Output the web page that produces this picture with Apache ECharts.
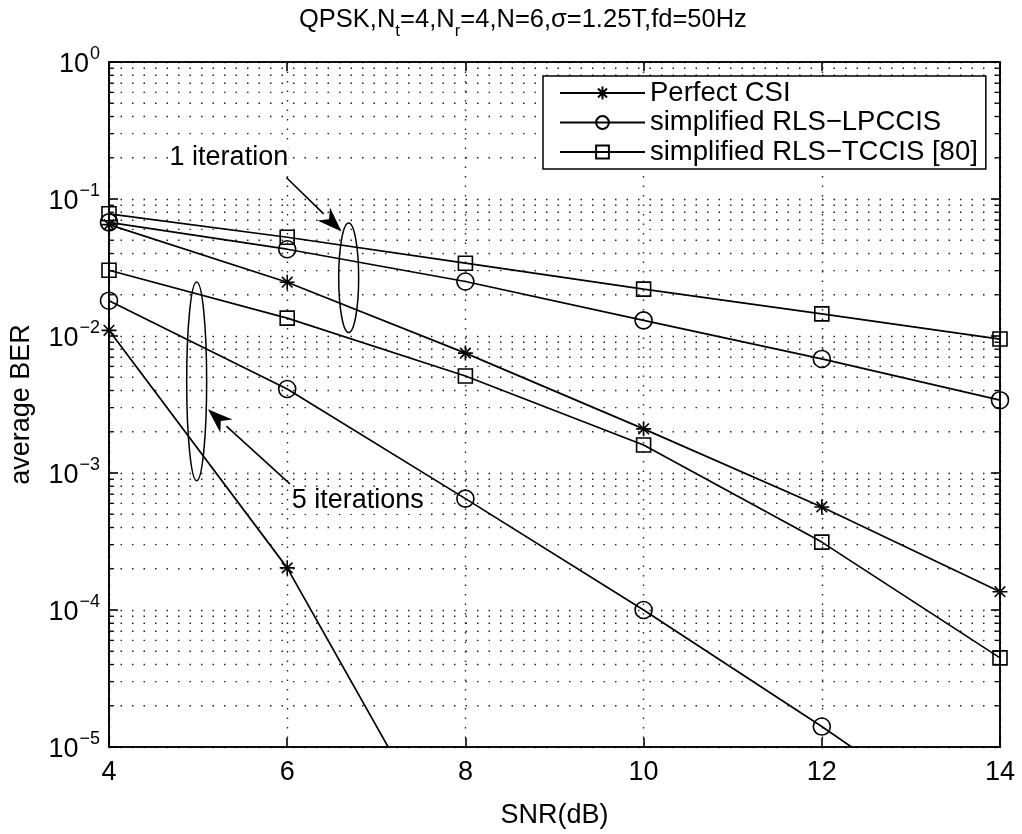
<!DOCTYPE html>
<html>
<head>
<meta charset="utf-8">
<script src="https://cdn.jsdelivr.net/npm/echarts@6/dist/echarts.min.js"></script>
<style>
  html, body { margin: 0; padding: 0; background: #fff; }
  #chart { width: 1022px; height: 834px; }
</style>
</head>
<body>
<div id="chart"></div>
<script>
var FONT = "Liberation Sans";

// SNR points (dB)
var snr = [4, 6, 8, 10, 12, 14];

// 1 iteration
var perfect1 = [0.065, 0.0247, 0.0075, 0.0021, 5.65e-4, 1.36e-4];
var lpccis1 = [0.0675, 0.043, 0.025, 0.013, 0.0068, 0.0034];
var tccis1 = [0.078, 0.0526, 0.034, 0.022, 0.0145, 0.0095];

// 5 iterations
var perfect5 = [0.011, 2.03e-4, 1.0e-6];
var lpccis5 = [0.0181, 0.0041, 6.5e-4, 1.0e-4, 1.41e-5, 1.8e-6];
var tccis5 = [0.0302, 0.0135, 0.0051, 0.0016, 3.13e-4, 4.47e-5];

var legendNames = ["Perfect CSI", "simplified RLS\u2212LPCCIS", "simplified RLS\u2212TCCIS [80]"];
var decades = [1e-5, 1e-4, 1e-3, 1e-2, 1e-1];
var minorMult = [2, 3, 4, 5, 6, 7, 8, 9];

// annotations, in data coordinates
var ellipses = [
  { x: 6.69, top: 0.0667, bottom: 0.0106, half: 0.112 },
  { x: 4.984, top: 0.0248, bottom: 8.77e-4, half: 0.112 }
];
var arrows = [
  { from: [5.99, 0.1436], to: [6.61, 0.058] },
  { from: [6.03, 8.34e-4], to: [5.11, 2.92e-3] }
];
var notes = [
  { text: "1 iteration", x: 4.68, y: 0.2 },
  { text: "5 iterations", x: 6.05, y: 6.3e-4 }
];

var starPath = "path://M0,-10L0,10M-10,0L10,0M-7.07,-7.07L7.07,7.07M-7.07,7.07L7.07,-7.07";

function pairs(ys) {
  return ys.map(function (v, i) { return [snr[i], v]; });
}

var minorVals = [];
decades.forEach(function (d) {
  minorMult.forEach(function (m) { minorVals.push([4, m * d]); });
});

var chartDom = document.getElementById("chart");
var myChart = echarts.init(chartDom);

function lineSeries(name, ys, symbol, size) {
  return {
    name: name,
    type: "line",
    data: pairs(ys),
    symbol: symbol,
    symbolSize: size,
    showAllSymbol: true,
    clip: true,
    animation: false,
    z: 5,
    lineStyle: { color: "#000", width: 1.7 },
    itemStyle: { color: "rgba(0,0,0,0)", borderColor: "#000", borderWidth: 1.6 },
    emphasis: { disabled: true }
  };
}

var dotted = { color: "#222", width: 1.4, type: [1.5, 10] };

option = {
  animation: false,
  backgroundColor: "#fff",
  title: {
    text: "{b|QPSK,N}{s|t}{b|=4,N}{s|r}{b|=4,N=6,\u03c3=1.25T,fd=50Hz}",
    left: 294,
    top: 2,
    textStyle: {
      fontWeight: "normal",
      rich: {
        b: { fontFamily: FONT, fontSize: 25.5, fontWeight: "normal", color: "#000", verticalAlign: "bottom", padding: [0, 0, 7, 0] },
        s: { fontFamily: FONT, fontSize: 17, fontWeight: "normal", color: "#000", verticalAlign: "bottom", padding: [0, 0, 0, 0] }
      }
    }
  },
  legend: {
    data: legendNames,
    orient: "vertical",
    left: 543,
    top: 76,
    padding: [3, 8, 3, 16],
    itemWidth: 85,
    itemHeight: 16,
    itemGap: 1.5,
    borderColor: "#000",
    borderWidth: 1.5,
    backgroundColor: "#fff",
    selectedMode: false,
    textStyle: { fontFamily: FONT, fontSize: 27.5, color: "#000", lineHeight: 26 }
  },
  grid: {
    left: 109,
    right: 22,
    top: 62,
    bottom: 72,
    show: true,
    borderColor: "#000",
    borderWidth: 1.6
  },
  xAxis: [
    {
      type: "value",
      min: 4,
      max: 14,
      interval: 2,
      name: "SNR(dB)",
      nameLocation: "middle",
      nameGap: 55,
      nameTextStyle: { fontFamily: FONT, fontSize: 27, color: "#000" },
      axisLine: { lineStyle: { color: "#000", width: 1.6 } },
      axisTick: { inside: true, length: 9, lineStyle: { color: "#000", width: 1.6 } },
      axisLabel: { fontFamily: FONT, fontSize: 27, color: "#000", margin: 12 },
      splitLine: { show: true, lineStyle: { color: "#222", width: 1.4, type: [1.5, 8] } }
    },
    {
      type: "value",
      position: "top",
      min: 4,
      max: 14,
      interval: 2,
      axisLine: { lineStyle: { color: "#000", width: 1.6 } },
      axisTick: { inside: true, length: 9, lineStyle: { color: "#000", width: 1.6 } },
      axisLabel: { show: false },
      splitLine: { show: false }
    }
  ],
  yAxis: [
    {
      type: "log",
      logBase: 10,
      min: 1e-5,
      max: 1,
      splitNumber: 5,
      name: "average BER",
      nameLocation: "middle",
      nameGap: 74,
      nameRotate: 90,
      nameTextStyle: { fontFamily: FONT, fontSize: 27, color: "#000" },
      axisLine: { lineStyle: { color: "#000", width: 1.6 } },
      axisTick: { inside: true, length: 9, lineStyle: { color: "#000", width: 1.6 } },
      axisLabel: {
        margin: 9,
        formatter: function (v) {
          var e = Math.round(Math.log10(v));
          return "{b|10}{s|" + (e < 0 ? "\u2212" + (-e) : e) + "}";
        },
        rich: {
          b: { fontFamily: FONT, fontSize: 27, color: "#000", verticalAlign: "bottom" },
          s: { fontFamily: FONT, fontSize: 18, color: "#000", verticalAlign: "bottom", padding: [0, 0, 15, 1] }
        }
      },
      splitLine: { show: true, lineStyle: dotted }
    },
    {
      type: "log",
      logBase: 10,
      position: "right",
      min: 1e-5,
      max: 1,
      splitNumber: 5,
      axisLine: { lineStyle: { color: "#000", width: 1.6 } },
      axisTick: { inside: true, length: 9, lineStyle: { color: "#000", width: 1.6 } },
      axisLabel: { show: false },
      splitLine: { show: false }
    }
  ],
  series: [
    {
      name: "minor",
      type: "custom",
      data: minorVals,
      silent: true,
      z: 1,
      animation: false,
      renderItem: function (params, api) {
        var v = api.value(1);
        var p0 = api.coord([4, v]);
        var p1 = api.coord([14, v]);
        return {
          type: "group",
          children: [
            { type: "line", shape: { x1: p0[0], y1: p0[1], x2: p1[0], y2: p1[1] },
              style: { stroke: "#222", lineWidth: 1.4, lineDash: [1.5, 10] } },
            { type: "line", shape: { x1: p0[0], y1: p0[1], x2: p0[0] + 5, y2: p0[1] },
              style: { stroke: "#000", lineWidth: 1.3 } },
            { type: "line", shape: { x1: p1[0], y1: p1[1], x2: p1[0] - 5, y2: p1[1] },
              style: { stroke: "#000", lineWidth: 1.3 } }
          ]
        };
      }
    },
    lineSeries(legendNames[0], perfect1, starPath, 15),
    lineSeries(legendNames[1], lpccis1, "circle", 17),
    lineSeries(legendNames[2], tccis1, "rect", 14),
    lineSeries(legendNames[0], perfect5, starPath, 15),
    lineSeries(legendNames[1], lpccis5, "circle", 17),
    lineSeries(legendNames[2], tccis5, "rect", 14)
  ]
};

option && myChart.setOption(option);

// annotations: ellipses, arrows, texts placed through the axes
function px(x, y) {
  return myChart.convertToPixel({ gridIndex: 0 }, [x, y]);
}

var graphics = [];
ellipses.forEach(function (e) {
  var t = px(e.x, e.top);
  var b = px(e.x, e.bottom);
  var r = px(e.x + e.half, e.top);
  graphics.push({
    type: "ellipse",
    shape: { cx: t[0], cy: (t[1] + b[1]) / 2, rx: r[0] - t[0], ry: (b[1] - t[1]) / 2 },
    style: { fill: null, stroke: "#000", lineWidth: 1.5 },
    z: 10
  });
});
arrows.forEach(function (a) {
  var p0 = px(a.from[0], a.from[1]);
  var p1 = px(a.to[0], a.to[1]);
  var dx = p1[0] - p0[0], dy = p1[1] - p0[1];
  var len = Math.sqrt(dx * dx + dy * dy);
  var ux = dx / len, uy = dy / len;
  var hl = 25, hw = 9;
  var bx = p1[0] - ux * hl, by = p1[1] - uy * hl;
  graphics.push({
    type: "line",
    shape: { x1: p0[0], y1: p0[1], x2: bx, y2: by },
    style: { stroke: "#000", lineWidth: 1.6 },
    z: 10
  });
  graphics.push({
    type: "polygon",
    shape: { points: [[p1[0], p1[1]], [bx - uy * hw, by + ux * hw], [p1[0] - ux * hl * 0.7, p1[1] - uy * hl * 0.7], [bx + uy * hw, by - ux * hw]] },
    style: { fill: "#000" },
    z: 10
  });
});
notes.forEach(function (n) {
  var p = px(n.x, n.y);
  graphics.push({
    type: "text",
    x: p[0],
    y: p[1],
    style: { text: n.text, fontFamily: FONT, fontSize: 27, fill: "#000", verticalAlign: "middle", backgroundColor: "#fff" },
    z: 11
  });
});
myChart.setOption({ graphic: graphics });
</script>
</body>
</html>
